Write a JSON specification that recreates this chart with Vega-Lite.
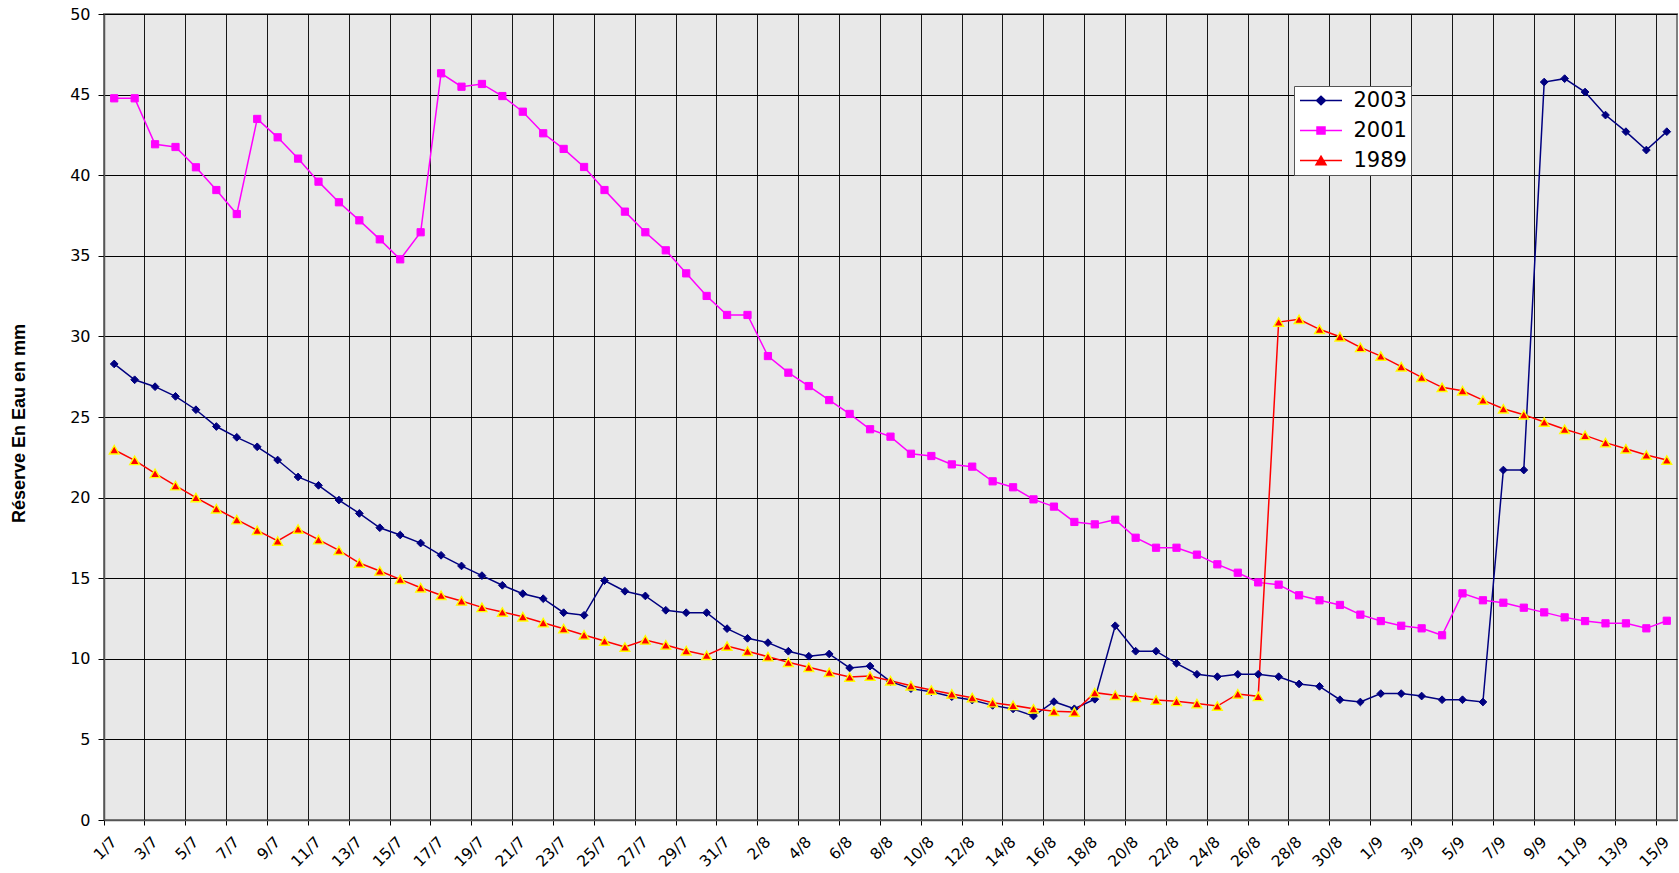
{
  "$schema": "https://vega.github.io/schema/vega-lite/v6.json",
  "width": 1573,
  "height": 806,
  "autosize": "none",
  "padding": {"left": 104, "top": 14, "right": 2, "bottom": 53},
  "background": "white",
  "config": {"view": {"fill": "#e8e8e8", "stroke": "#808080", "strokeWidth": 2}},
  "datasets": {
    "vals": [
      {"d":"1/7","s":"2003","v":28.29},{"d":"2/7","s":"2003","v":27.31},{"d":"3/7","s":"2003","v":26.88},{"d":"4/7","s":"2003","v":26.28},{"d":"5/7","s":"2003","v":25.45},{"d":"6/7","s":"2003","v":24.41},{"d":"7/7","s":"2003","v":23.74},{"d":"8/7","s":"2003","v":23.15},{"d":"9/7","s":"2003","v":22.33},{"d":"10/7","s":"2003","v":21.28},{"d":"11/7","s":"2003","v":20.76},{"d":"12/7","s":"2003","v":19.85},{"d":"13/7","s":"2003","v":19.02},{"d":"14/7","s":"2003","v":18.13},{"d":"15/7","s":"2003","v":17.68},{"d":"16/7","s":"2003","v":17.18},{"d":"17/7","s":"2003","v":16.42},{"d":"18/7","s":"2003","v":15.76},{"d":"19/7","s":"2003","v":15.16},{"d":"20/7","s":"2003","v":14.56},{"d":"21/7","s":"2003","v":14.04},{"d":"22/7","s":"2003","v":13.73},{"d":"23/7","s":"2003","v":12.86},{"d":"24/7","s":"2003","v":12.7},{"d":"25/7","s":"2003","v":14.85},{"d":"26/7","s":"2003","v":14.19},{"d":"27/7","s":"2003","v":13.9},{"d":"28/7","s":"2003","v":13.01},{"d":"29/7","s":"2003","v":12.86},{"d":"30/7","s":"2003","v":12.86},{"d":"31/7","s":"2003","v":11.87},
      {"d":"1/8","s":"2003","v":11.27},{"d":"2/8","s":"2003","v":11.0},{"d":"3/8","s":"2003","v":10.47},{"d":"4/8","s":"2003","v":10.16},{"d":"5/8","s":"2003","v":10.3},{"d":"6/8","s":"2003","v":9.43},{"d":"7/8","s":"2003","v":9.55},{"d":"8/8","s":"2003","v":8.58},{"d":"9/8","s":"2003","v":8.15},{"d":"10/8","s":"2003","v":7.96},{"d":"11/8","s":"2003","v":7.65},{"d":"12/8","s":"2003","v":7.44},{"d":"13/8","s":"2003","v":7.11},{"d":"14/8","s":"2003","v":6.89},{"d":"15/8","s":"2003","v":6.45},{"d":"16/8","s":"2003","v":7.34},{"d":"17/8","s":"2003","v":6.9},{"d":"18/8","s":"2003","v":7.49},{"d":"19/8","s":"2003","v":12.05},{"d":"20/8","s":"2003","v":10.47},{"d":"21/8","s":"2003","v":10.47},{"d":"22/8","s":"2003","v":9.72},{"d":"23/8","s":"2003","v":9.04},{"d":"24/8","s":"2003","v":8.89},{"d":"25/8","s":"2003","v":9.04},{"d":"26/8","s":"2003","v":9.04},{"d":"27/8","s":"2003","v":8.89},{"d":"28/8","s":"2003","v":8.44},{"d":"29/8","s":"2003","v":8.29},{"d":"30/8","s":"2003","v":7.46},{"d":"31/8","s":"2003","v":7.32},
      {"d":"1/9","s":"2003","v":7.84},{"d":"2/9","s":"2003","v":7.84},{"d":"3/9","s":"2003","v":7.69},{"d":"4/9","s":"2003","v":7.46},{"d":"5/9","s":"2003","v":7.46},{"d":"6/9","s":"2003","v":7.32},{"d":"7/9","s":"2003","v":21.71},{"d":"8/9","s":"2003","v":21.71},{"d":"9/9","s":"2003","v":45.78},{"d":"10/9","s":"2003","v":45.99},{"d":"11/9","s":"2003","v":45.16},{"d":"12/9","s":"2003","v":43.73},{"d":"13/9","s":"2003","v":42.7},{"d":"14/9","s":"2003","v":41.56},{"d":"15/9","s":"2003","v":42.7},

      {"d":"1/7","s":"2001","v":44.77},{"d":"2/7","s":"2001","v":44.77},{"d":"3/7","s":"2001","v":41.92},{"d":"4/7","s":"2001","v":41.75},{"d":"5/7","s":"2001","v":40.49},{"d":"6/7","s":"2001","v":39.08},{"d":"7/7","s":"2001","v":37.59},{"d":"8/7","s":"2001","v":43.49},{"d":"9/7","s":"2001","v":42.35},{"d":"10/7","s":"2001","v":41.03},{"d":"11/7","s":"2001","v":39.6},{"d":"12/7","s":"2001","v":38.32},{"d":"13/7","s":"2001","v":37.2},{"d":"14/7","s":"2001","v":36.02},{"d":"15/7","s":"2001","v":34.78},{"d":"16/7","s":"2001","v":36.46},{"d":"17/7","s":"2001","v":46.32},{"d":"18/7","s":"2001","v":45.49},{"d":"19/7","s":"2001","v":45.66},{"d":"20/7","s":"2001","v":44.91},{"d":"21/7","s":"2001","v":43.94},{"d":"22/7","s":"2001","v":42.6},{"d":"23/7","s":"2001","v":41.63},{"d":"24/7","s":"2001","v":40.51},{"d":"25/7","s":"2001","v":39.08},{"d":"26/7","s":"2001","v":37.74},{"d":"27/7","s":"2001","v":36.46},{"d":"28/7","s":"2001","v":35.34},{"d":"29/7","s":"2001","v":33.91},{"d":"30/7","s":"2001","v":32.51},{"d":"31/7","s":"2001","v":31.33},
      {"d":"1/8","s":"2001","v":31.33},{"d":"2/8","s":"2001","v":28.78},{"d":"3/8","s":"2001","v":27.75},{"d":"4/8","s":"2001","v":26.92},{"d":"5/8","s":"2001","v":26.05},{"d":"6/8","s":"2001","v":25.19},{"d":"7/8","s":"2001","v":24.24},{"d":"8/8","s":"2001","v":23.78},{"d":"9/8","s":"2001","v":22.72},{"d":"10/8","s":"2001","v":22.58},{"d":"11/8","s":"2001","v":22.06},{"d":"12/8","s":"2001","v":21.92},{"d":"13/8","s":"2001","v":21.01},{"d":"14/8","s":"2001","v":20.64},{"d":"15/8","s":"2001","v":19.89},{"d":"16/8","s":"2001","v":19.44},{"d":"17/8","s":"2001","v":18.49},{"d":"18/8","s":"2001","v":18.34},{"d":"19/8","s":"2001","v":18.63},{"d":"20/8","s":"2001","v":17.51},{"d":"21/8","s":"2001","v":16.89},{"d":"22/8","s":"2001","v":16.89},{"d":"23/8","s":"2001","v":16.46},{"d":"24/8","s":"2001","v":15.86},{"d":"25/8","s":"2001","v":15.34},{"d":"26/8","s":"2001","v":14.74},{"d":"27/8","s":"2001","v":14.6},{"d":"28/8","s":"2001","v":13.94},{"d":"29/8","s":"2001","v":13.63},{"d":"30/8","s":"2001","v":13.34},{"d":"31/8","s":"2001","v":12.74},
      {"d":"1/9","s":"2001","v":12.34},{"d":"2/9","s":"2001","v":12.05},{"d":"3/9","s":"2001","v":11.89},{"d":"4/9","s":"2001","v":11.46},{"d":"5/9","s":"2001","v":14.06},{"d":"6/9","s":"2001","v":13.63},{"d":"7/9","s":"2001","v":13.48},{"d":"8/9","s":"2001","v":13.17},{"d":"9/9","s":"2001","v":12.88},{"d":"10/9","s":"2001","v":12.57},{"d":"11/9","s":"2001","v":12.34},{"d":"12/9","s":"2001","v":12.2},{"d":"13/9","s":"2001","v":12.2},{"d":"14/9","s":"2001","v":11.89},{"d":"15/9","s":"2001","v":12.36},

      {"d":"1/7","s":"1989","v":22.97},{"d":"2/7","s":"1989","v":22.31},{"d":"3/7","s":"1989","v":21.5},{"d":"4/7","s":"1989","v":20.74},{"d":"5/7","s":"1989","v":20.0},{"d":"6/7","s":"1989","v":19.31},{"d":"7/7","s":"1989","v":18.63},{"d":"8/7","s":"1989","v":17.97},{"d":"9/7","s":"1989","v":17.31},{"d":"10/7","s":"1989","v":18.05},{"d":"11/7","s":"1989","v":17.39},{"d":"12/7","s":"1989","v":16.73},{"d":"13/7","s":"1989","v":15.94},{"d":"14/7","s":"1989","v":15.45},{"d":"15/7","s":"1989","v":14.93},{"d":"16/7","s":"1989","v":14.41},{"d":"17/7","s":"1989","v":13.94},{"d":"18/7","s":"1989","v":13.59},{"d":"19/7","s":"1989","v":13.19},{"d":"20/7","s":"1989","v":12.9},{"d":"21/7","s":"1989","v":12.61},{"d":"22/7","s":"1989","v":12.24},{"d":"23/7","s":"1989","v":11.87},{"d":"24/7","s":"1989","v":11.48},{"d":"25/7","s":"1989","v":11.1},{"d":"26/7","s":"1989","v":10.73},{"d":"27/7","s":"1989","v":11.17},{"d":"28/7","s":"1989","v":10.86},{"d":"29/7","s":"1989","v":10.5},{"d":"30/7","s":"1989","v":10.22},{"d":"31/7","s":"1989","v":10.79},
      {"d":"1/8","s":"1989","v":10.47},{"d":"2/8","s":"1989","v":10.13},{"d":"3/8","s":"1989","v":9.78},{"d":"4/8","s":"1989","v":9.47},{"d":"5/8","s":"1989","v":9.16},{"d":"6/8","s":"1989","v":8.87},{"d":"7/8","s":"1989","v":8.93},{"d":"8/8","s":"1989","v":8.64},{"d":"9/8","s":"1989","v":8.33},{"d":"10/8","s":"1989","v":8.06},{"d":"11/8","s":"1989","v":7.82},{"d":"12/8","s":"1989","v":7.59},{"d":"13/8","s":"1989","v":7.28},{"d":"14/8","s":"1989","v":7.11},{"d":"15/8","s":"1989","v":6.9},{"d":"16/8","s":"1989","v":6.74},{"d":"17/8","s":"1989","v":6.7},{"d":"18/8","s":"1989","v":7.9},{"d":"19/8","s":"1989","v":7.74},{"d":"20/8","s":"1989","v":7.61},{"d":"21/8","s":"1989","v":7.44},{"d":"22/8","s":"1989","v":7.36},{"d":"23/8","s":"1989","v":7.22},{"d":"24/8","s":"1989","v":7.07},{"d":"25/8","s":"1989","v":7.82},{"d":"26/8","s":"1989","v":7.67},{"d":"27/8","s":"1989","v":30.89},{"d":"28/8","s":"1989","v":31.06},{"d":"29/8","s":"1989","v":30.44},{"d":"30/8","s":"1989","v":29.98},{"d":"31/8","s":"1989","v":29.32},
      {"d":"1/9","s":"1989","v":28.78},{"d":"2/9","s":"1989","v":28.12},{"d":"3/9","s":"1989","v":27.46},{"d":"4/9","s":"1989","v":26.84},{"d":"5/9","s":"1989","v":26.63},{"d":"6/9","s":"1989","v":26.05},{"d":"7/9","s":"1989","v":25.51},{"d":"8/9","s":"1989","v":25.14},{"d":"9/9","s":"1989","v":24.69},{"d":"10/9","s":"1989","v":24.24},{"d":"11/9","s":"1989","v":23.86},{"d":"12/9","s":"1989","v":23.41},{"d":"13/9","s":"1989","v":23.03},{"d":"14/9","s":"1989","v":22.64},{"d":"15/9","s":"1989","v":22.33}
    ]
  },
  "data": {"name": "vals"},
  "encoding": {
    "x": {
      "field": "d",
      "type": "ordinal",
      "sort": null,
      "bandPosition": 0.5,
      "scale": {
        "type": "band",
        "paddingInner": 0,
        "paddingOuter": 0,
        "domain": ["1/7","2/7","3/7","4/7","5/7","6/7","7/7","8/7","9/7","10/7","11/7","12/7","13/7","14/7","15/7","16/7","17/7","18/7","19/7","20/7","21/7","22/7","23/7","24/7","25/7","26/7","27/7","28/7","29/7","30/7","31/7","1/8","2/8","3/8","4/8","5/8","6/8","7/8","8/8","9/8","10/8","11/8","12/8","13/8","14/8","15/8","16/8","17/8","18/8","19/8","20/8","21/8","22/8","23/8","24/8","25/8","26/8","27/8","28/8","29/8","30/8","31/8","1/9","2/9","3/9","4/9","5/9","6/9","7/9","8/9","9/9","10/9","11/9","12/9","13/9","14/9","15/9"]
      },
      "axis": {
        "title": null,
        "values": ["1/7","3/7","5/7","7/7","9/7","11/7","13/7","15/7","17/7","19/7","21/7","23/7","25/7","27/7","29/7","31/7","2/8","4/8","6/8","8/8","10/8","12/8","14/8","16/8","18/8","20/8","22/8","24/8","26/8","28/8","30/8","1/9","3/9","5/9","7/9","9/9","11/9","13/9","15/9"],
        "bandPosition": 0,
        "grid": true,
        "gridColor": "#000000",
        "gridWidth": 1,
        "gridOpacity": 0.9,
        "domainColor": "#555555",
        "domainWidth": 1.5,
        "tickColor": "#000000",
        "tickSize": 5,
        "labelFont": "DejaVu Sans",
        "labelFontSize": 15.5,
        "labelColor": "#000000",
        "labelAngle": -45,
        "labelAlign": "right",
        "labelBaseline": "middle",
        "labelPadding": 14,
        "labelOverlap": false
      }
    },
    "y": {
      "field": "v",
      "type": "quantitative",
      "scale": {"domain": [0, 50], "nice": false, "zero": true},
      "axis": {
        "values": [0,5,10,15,20,25,30,35,40,45,50],
        "grid": true,
        "gridColor": "#000000",
        "gridWidth": 1,
        "domainColor": "#555555",
        "domainWidth": 1.5,
        "tickColor": "#000000",
        "tickSize": 6,
        "labelFont": "DejaVu Sans",
        "labelFontSize": 16,
        "labelColor": "#000000",
        "labelPadding": 8,
        "title": "Réserve En Eau en mm",
        "titleFont": "Liberation Sans",
        "titleFontSize": 18,
        "titleFontWeight": "bold",
        "titleColor": "#000000",
        "titleAngle": -90,
        "titleAlign": "center",
        "titleBaseline": "middle",
        "titleX": -85,
        "titleY": 409
      }
    }
  },
  "layer": [
    {
      "mark": {"type": "line", "strokeWidth": 1.5},
      "encoding": {
        "color": {
          "field": "s",
          "type": "nominal",
          "scale": {"domain": ["2003","2001","1989"], "range": ["#000080","#FF00FF","#FF0000"]},
          "legend": {
            "title": null,
            "orient": "none",
            "legendX": 1190,
            "legendY": 72,
            "direction": "vertical",
            "fillColor": "#ffffff",
            "strokeColor": "#555555",
            "padding": 4,
            "rowPadding": 8,
            "symbolSize": 100,
            "symbolStrokeWidth": 1.5,
            "symbolOffset": 12.5,
            "labelOffset": 22,
            "labelFont": "DejaVu Sans",
            "labelFontSize": 21,
            "labelColor": "#000000",
            "labelLimit": 300,
            "encode": {
              "symbols": {
                "update": {
                  "shape": {"signal": "datum.value == '2003' ? 'M-4.2,0H4.2M-0.9,0L0,-0.85L0.9,0L0,0.85Z' : datum.value == '2001' ? 'M-4.2,0H4.2M-0.8,-0.7H0.8V0.7H-0.8Z' : 'M-4.2,0H4.2M0,-0.85L1,0.85H-1Z'"},
                  "fill": {"signal": "datum.value == '2003' ? '#000080' : datum.value == '2001' ? '#FF00FF' : '#FF0000'"},
                  "stroke": {"signal": "datum.value == '2003' ? '#000080' : datum.value == '2001' ? '#FF00FF' : '#FF0000'"},
                  "strokeWidth": {"value": 1.5},
                  "size": {"value": 100}
                }
              }
            }
          }
        }
      }
    },
    {
      "transform": [{"filter": "datum.s == '2003'"}],
      "mark": {"type": "point", "shape": "diamond", "filled": true, "fill": "#000080", "stroke": "#000080", "strokeWidth": 1, "size": 60, "opacity": 1}
    },
    {
      "transform": [{"filter": "datum.s == '2001'"}],
      "mark": {"type": "point", "shape": "square", "filled": true, "fill": "#FF00FF", "stroke": "#FF00FF", "strokeWidth": 1, "size": 52, "opacity": 1}
    },
    {
      "transform": [{"filter": "datum.s == '1989'"}],
      "mark": {"type": "point", "shape": "triangle-up", "filled": true, "fill": "#FF0000", "stroke": "#FFFF00", "strokeWidth": 1.4, "size": 95, "opacity": 1}
    }
  ]
}
